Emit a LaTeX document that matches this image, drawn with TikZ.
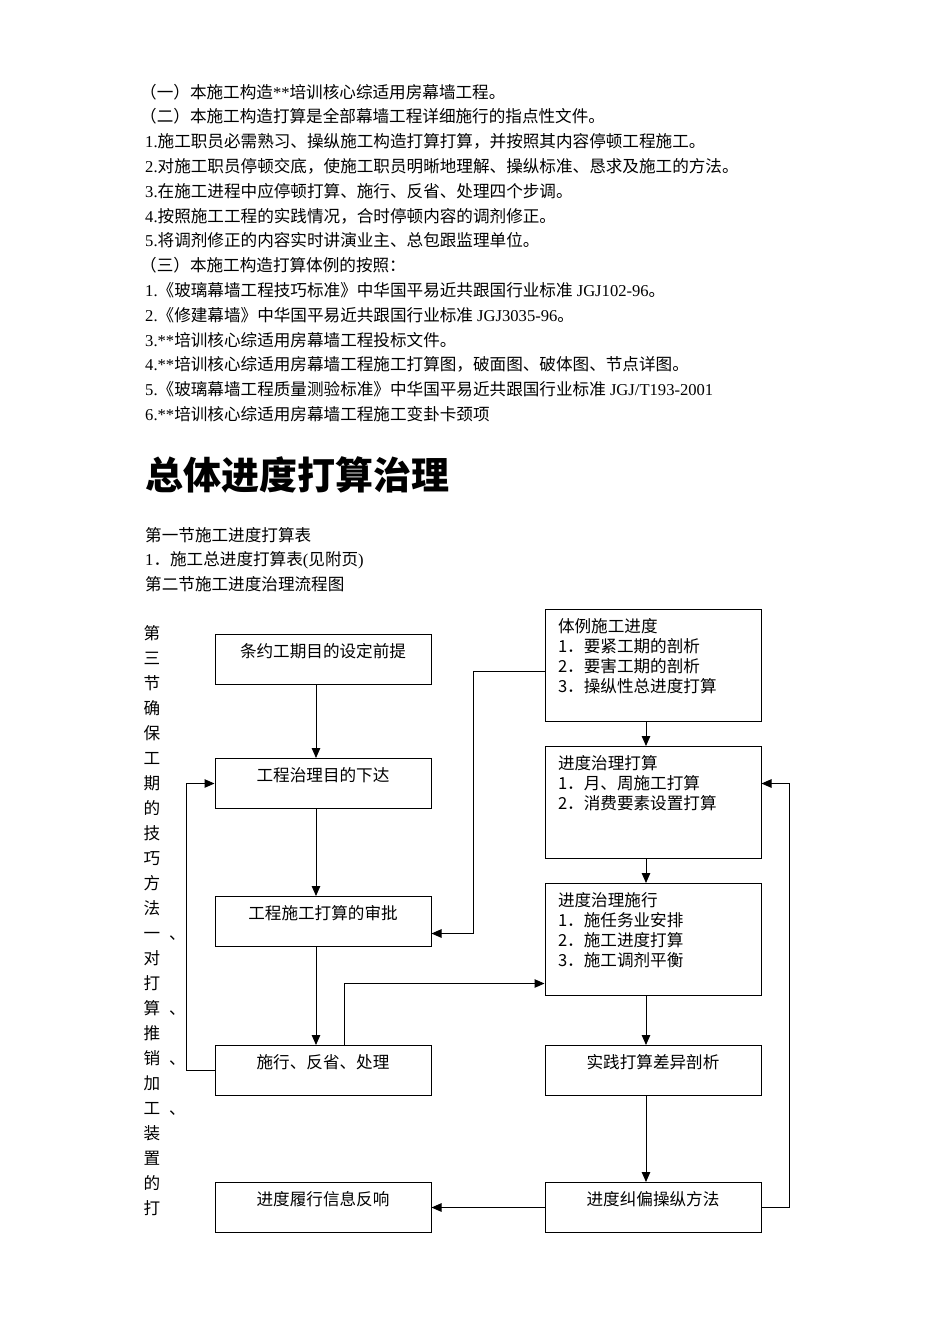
\documentclass[tikz,border=0pt]{standalone}
\usepackage{fontspec}
\usepackage{tikz}
\usetikzlibrary{arrows.meta}
\setmainfont{Noto Sans CJK SC}
\newfontfamily\lat{Liberation Serif}
\newcommand\bodyfont{\fontsize{16.6}{20}\selectfont}

\tikzset{
  line/.style={anchor=base west, inner sep=0pt, font=\bodyfont},
  box/.style={draw, line width=1pt, anchor=north, minimum width=216pt,
    inner xsep=4pt, inner ysep=4pt, text height=19pt, text depth=23pt, font=\bodyfont},
  listbox/.style={box, text width=190pt, inner xsep=13pt, align=left, text depth=85pt},
  arr/.style={-{Triangle[length=10pt,width=8.5pt]}, line width=1pt}
}

\begin{document}
\begin{tikzpicture}[x=1pt,y=-1pt]
    \useasboundingbox (0,0) rectangle (950,1344);

    % text on top
    \node[line] (t1) at (140,98) {（一）本施工构造{\lat **}培训核心综适用房幕墙工程。};
    \node[line] (t2) at (140,122.8) {（二）本施工构造打算是全部幕墙工程详细施行的指点性文件。};
    \node[line] (t3) at (145,147.6) {{\lat 1.}施工职员必需熟习、操纵施工构造打算打算，并按照其内容停顿工程施工。};
    \node[line] (t4) at (145,172.4) {{\lat 2.}对施工职员停顿交底，使施工职员明晰地理解、操纵标准、恳求及施工的方法。};
    \node[line] (t5) at (145,197.2) {{\lat 3.}在施工进程中应停顿打算、施行、反省、处理四个步调。};
    \node[line] (t6) at (145,222) {{\lat 4.}按照施工工程的实践情况，合时停顿内容的调剂修正。};
    \node[line] (t7) at (145,246.8) {{\lat 5.}将调剂修正的内容实时讲演业主、总包跟监理单位。};
    \node[line] (t8) at (140,271.6) {（三）本施工构造打算体例的按照：};
    \node[line] (t9) at (145,296.4) {{\lat 1.}《玻璃幕墙工程技巧标准》中华国平易近共跟国行业标准{\lat\ JGJ102-96}。};
    \node[line] (t10) at (145,321.2) {{\lat 2.}《修建幕墙》中华国平易近共跟国行业标准{\lat\ JGJ3035-96}。};
    \node[line] (t11) at (145,346) {{\lat 3.**}培训核心综适用房幕墙工程投标文件。};
    \node[line] (t12) at (145,370.8) {{\lat 4.**}培训核心综适用房幕墙工程施工打算图，破面图、破体图、节点详图。};
    \node[line] (t13) at (145,395.6) {{\lat 5.}《玻璃幕墙工程质量测验标准》中华国平易近共跟国行业标准{\lat\ JGJ/T193-2001}};
    \node[line] (t14) at (145,420.4) {{\lat 6.**}培训核心综适用房幕墙工程施工变卦卡颈项};

    \node[line, font=\fontsize{38}{40}\selectfont\bfseries] (title) at (145,489) {总体进度打算治理};

    \node[line] (s1) at (145,541) {第一节施工进度打算表};
    \node[line] (s2) at (145,565) {{\lat 1}．施工总进度打算表{\lat (}见附页{\lat )}};
    \node[line] (s3) at (145,590) {第二节施工进度治理流程图};

    % vertical text
    \foreach \c [count=\i] in {第,三,节,确,保,工,期,的,技,巧,方,法,一,对,打,算,推,销,加,工,装,置,的,打}
        \node[anchor=base, inner sep=0pt, font=\bodyfont] (v\i) at (152,614+25*\i) {\c};
    \foreach \i in {13,16,18,20}
        \node[anchor=base west, inner sep=0pt, font=\bodyfont] (d\i) at (169,614+25*\i) {、};

    % left column
    \node[box] (b1) at (323,634) {条约工期目的设定前提};
    \node[box] (b2) at (323,758) {工程治理目的下达};
    \node[box] (b3) at (323,896) {工程施工打算的审批};
    \node[box] (b4) at (323,1045) {施行、反省、处理};
    \node[box] (b5) at (323,1182) {进度履行信息反响};

    % right column
    \node[listbox] (r1) at (653,609) {体例施工进度\\1．要紧工期的剖析\\2．要害工期的剖析\\3．操纵性总进度打算};
    \node[listbox] (r2) at (653,746) {进度治理打算\\1．月、周施工打算\\2．消费要素设置打算};
    \node[listbox] (r3) at (653,883) {进度治理施行\\1．施任务业安排\\2．施工进度打算\\3．施工调剂平衡};
    \node[box] (r4) at (653,1045) {实践打算差异剖析};
    \node[box] (r5) at (653,1182) {进度纠偏操纵方法};

    % arrows
    \draw[arr] ([xshift=-7pt]b1.south) -- ([xshift=-7pt]b2.north);
    \draw[arr] ([xshift=-7pt]b2.south) -- ([xshift=-7pt]b3.north);
    \draw[arr] ([xshift=-7pt]b3.south) -- ([xshift=-7pt]b4.north);
    \draw[arr] (b4.west) -- ++(-28,0) |- (b2.west);
    \draw[arr] ([yshift=-6pt]r1.west) -- ++(-71,0) |- ([yshift=-12pt]b3.east);
    \draw[arr] ([xshift=21pt]b4.north) |- ([yshift=-44pt]r3.west);
    \draw[arr] ([xshift=-7pt]r1.south) -- ([xshift=-7pt]r2.north);
    \draw[arr] ([xshift=-7pt]r2.south) -- ([xshift=-7pt]r3.north);
    \draw[arr] ([xshift=-7pt]r3.south) -- ([xshift=-7pt]r4.north);
    \draw[arr] ([xshift=-7pt]r4.south) -- ([xshift=-7pt]r5.north);
    \draw[arr] (r5.west) -- (b5.east);
    \draw[arr] (r5.east) -- ++(28,0) |- ([yshift=19pt]r2.east);

\end{tikzpicture}
\end{document}
